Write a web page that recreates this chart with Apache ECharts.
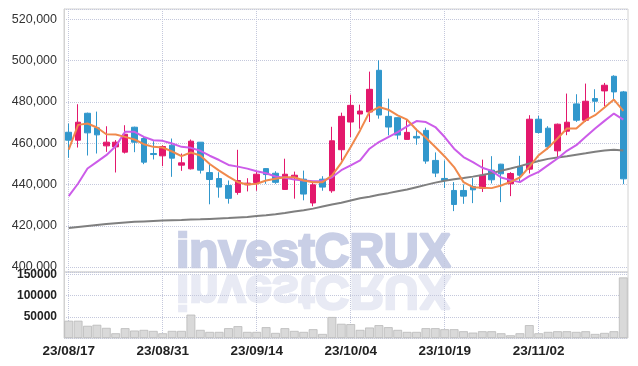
<!DOCTYPE html>
<html><head><meta charset="utf-8">
<script src="https://cdn.jsdelivr.net/npm/echarts@6/dist/echarts.min.js"></script>
<style>html,body{margin:0;padding:0;background:#fff}#c{width:638px;height:366px}</style>
</head><body><div id="c"></div>
<script>
const dates = ['23/08/17','23/08/18','23/08/21','23/08/22','23/08/23','23/08/24','23/08/25','23/08/28','23/08/29','23/08/30',
'23/08/31','23/09/01','23/09/04','23/09/05','23/09/06','23/09/07','23/09/08','23/09/11','23/09/12','23/09/13',
'23/09/14','23/09/15','23/09/18','23/09/19','23/09/20','23/09/21','23/09/22','23/09/25','23/09/26','23/09/27',
'23/10/04','23/10/05','23/10/06','23/10/10','23/10/11','23/10/12','23/10/13','23/10/16','23/10/17','23/10/18',
'23/10/19','23/10/20','23/10/23','23/10/24','23/10/25','23/10/26','23/10/27','23/10/30','23/10/31','23/11/01',
'23/11/02','23/11/03','23/11/06','23/11/07','23/11/08','23/11/09','23/11/10','23/11/13','23/11/14','23/11/15'];

const opens = [465300,461450,474500,467420,458700,458200,455640,467740,462260,455000,
453870,459030,449350,447580,460480,445760,442880,439520,436160,439840,
440960,447680,445440,437600,443520,442560,431040,442560,436950,456830,
470250,474130,475100,495310,473000,472350,461840,463290,466200,451650,
442920,437100,437100,439040,438150,446930,449840,440320,448710,447420,
471610,467260,456290,465810,479030,471130,481610,485320,492420,484840];
const closes = [461450,470160,465000,464030,460480,460480,464350,460480,450810,454500,
458390,452740,450480,460970,446930,442400,438720,433280,441920,440640,
444960,444800,441040,444960,444480,435360,439840,438720,461160,473000,
478330,475580,486090,473640,467820,463940,465240,462500,451330,445510,
441950,430310,434350,437420,444450,442260,445160,445320,444510,471610,
465160,458220,469190,470160,471130,480320,480320,488070,484840,442740];
const lows = [452900,457900,454030,455000,455800,445800,455000,455640,449840,452100,
448870,443700,446600,447260,445300,430400,433600,430720,435040,436640,
436960,440320,440320,437440,433120,432320,429440,436960,435980,451650,
462970,467010,470250,471860,463780,461840,461700,459250,450040,443570,
438250,427090,430630,430960,436370,440480,431450,434350,441610,445320,
464680,456930,453390,463870,470320,470320,475160,477900,481000,440160];
const highs = [469500,478870,474800,475300,468200,461500,468700,468000,463230,460970,
459000,462260,455000,461770,460480,449920,445920,441920,456800,443040,
446240,447840,446400,452480,446240,446720,441000,444000,467940,474780,
483510,478660,494660,500160,481570,472500,471380,467010,467500,455530,
451650,441140,440020,443080,452030,453710,450000,445970,453870,473550,
473230,468230,469500,484030,483710,488870,486130,489190,492900,485300];

const ma5 = [456900,468870,469520,467580,464350,464190,463070,461780,459520,458230,
457900,455970,453700,455480,454000,449920,446720,443840,441120,440000,
440320,441920,442720,443520,443520,441920,441120,441120,444320,450500,
458120,466200,475100,477520,476230,473480,471380,466530,462650,458120,
453590,448420,441140,438710,438400,438230,439510,441290,443390,448550,
454190,457740,462260,467100,467100,471130,473550,477260,481130,475650];
const ma20 = [434350,440480,447740,450970,454190,458550,465480,465480,463070,461450,
461130,459840,458230,457740,456300,453920,451840,449440,448640,447680,
446400,445440,443840,443200,442400,441920,441600,441600,443520,446900,
449230,451650,457310,460550,462970,465400,468150,470730,470250,467820,
462970,457310,453270,450840,448100,446610,443390,442100,441130,444030,
446130,449350,452580,456290,459030,463060,467100,470810,474350,471450];
const ma60 = [418900,419400,419900,420400,420800,421200,421600,421900,422100,422300,
422500,422700,422800,423000,423100,423300,423500,423700,424000,424300,
424700,425100,425600,426200,426900,427500,428300,429300,430300,431100,
432200,433300,434100,435000,435800,436700,437600,438700,439800,440900,
441800,442500,443100,443800,444600,445500,446600,447700,448900,450200,
451400,452400,453100,453700,454400,455100,455900,456500,456800,456500];
const volumes = [40800,40800,28800,31200,24000,11200,23200,17600,19200,16800,
11200,16800,16800,55200,19200,14400,14400,23200,28000,14400,
14400,25600,12000,23200,16800,14400,20800,9600,49600,33600,
32800,19200,24800,30400,25600,19200,14400,14400,23200,23200,
20800,20800,16000,12800,16000,16000,11200,6400,11200,30400,
11200,14400,16000,16000,14400,16000,9600,12000,16000,143200];

const sans = "'Liberation Sans',Arial,sans-serif";
const gridLine = {show:true, lineStyle:{type:'dotted', color:'#c4c8dc', width:1}};
const vLine = {show:true, interval:9, alignWithLabel:true, lineStyle:{type:'dotted', color:'#c4c8dc', width:1}};
const wmFont = 'bold 48px "Liberation Sans", Arial, sans-serif';

const chart = echarts.init(document.getElementById('c'), null, {renderer:'canvas'});
chart.setOption({
  animation:false,
  backgroundColor:'#fff',
  grid:[
    {left:64, right:10, top:9, height:263, show:true, borderColor:'#d2d2d2', borderWidth:1, outerBoundsMode:'none'},
    {left:64, right:10, top:272, height:66, show:true, borderColor:'#d2d2d2', borderWidth:1, outerBoundsMode:'none'}
  ],
  graphic:[
    {type:'text', z:-10, silent:true, x:176, y:254,
     style:{text:'investCRUX', font:wmFont, fill:'#c9cfe6', stroke:'#c9cfe6', lineWidth:2.5, verticalAlign:'middle', textVerticalAlign:'middle'}},
    {type:'group', z:-10, silent:true, x:176, y:271.5, scaleY:-1,
     children:[{type:'text', z:-10, x:0, y:-17.5,
       style:{text:'investCRUX', font:wmFont, fill:'#e8eaf4', stroke:'#e8eaf4', lineWidth:2.5, verticalAlign:'middle', textVerticalAlign:'middle'}}]}
  ],
  xAxis:[
    {type:'category', gridIndex:0, data:dates, boundaryGap:true,
     axisLine:{show:false}, axisTick:{show:false}, axisLabel:{show:false}, splitLine:vLine},
    {type:'category', gridIndex:1, data:dates, boundaryGap:true,
     axisLine:{show:false}, axisTick:{show:false},
     axisLabel:{interval:9, margin:6, fontFamily:sans, fontSize:13.5, fontWeight:'bold', color:'#222'},
     splitLine:vLine}
  ],
  yAxis:[
    {type:'value', gridIndex:0, min:397600, max:525000, splitNumber:6, scale:true,
     axisLine:{show:true, lineStyle:{color:'#d2d2d2'}}, axisTick:{show:false},
     axisLabel:{showMinLabel:false, showMaxLabel:false, margin:7, color:'#333', fontSize:12.5, fontFamily:sans,
       padding:[4,0,0,0], formatter:v=>v.toLocaleString('en-US')},
     splitLine:gridLine},
    {type:'value', gridIndex:1, min:0, max:156000, splitNumber:3,
     axisLine:{show:true, lineStyle:{color:'#d2d2d2'}}, axisTick:{show:false},
     axisLabel:{showMinLabel:false, showMaxLabel:false, margin:7, color:'#222', fontSize:12, fontWeight:'bold', fontFamily:sans,
       padding:[4,0,0,0], formatter:v=>String(v)},
     splitLine:gridLine}
  ],
  series:[
    {type:'candlestick', xAxisIndex:0, yAxisIndex:0, barWidth:6,
     data:dates.map((d,i)=>[opens[i],closes[i],lows[i],highs[i]]),
     itemStyle:{color:'#e3186c', color0:'#3197cc', borderColor:'#e3186c', borderColor0:'#3197cc', borderWidth:1}},
    {type:'line', xAxisIndex:0, yAxisIndex:0, data:ma60, symbol:'none', lineStyle:{color:'#7f7f7f', width:2}, z:3},
    {type:'line', xAxisIndex:0, yAxisIndex:0, data:ma20, symbol:'none', lineStyle:{color:'#cc5ce9', width:2}, z:3},
    {type:'line', xAxisIndex:0, yAxisIndex:0, data:ma5, symbol:'none', lineStyle:{color:'#f0894c', width:2}, z:4},
    {type:'bar', xAxisIndex:1, yAxisIndex:1, data:volumes, barCategoryGap:'6%',
     itemStyle:{color:'#d9d9d9', borderColor:'#b9b9b9', borderWidth:0.8}}
  ]
});
</script></body></html>
